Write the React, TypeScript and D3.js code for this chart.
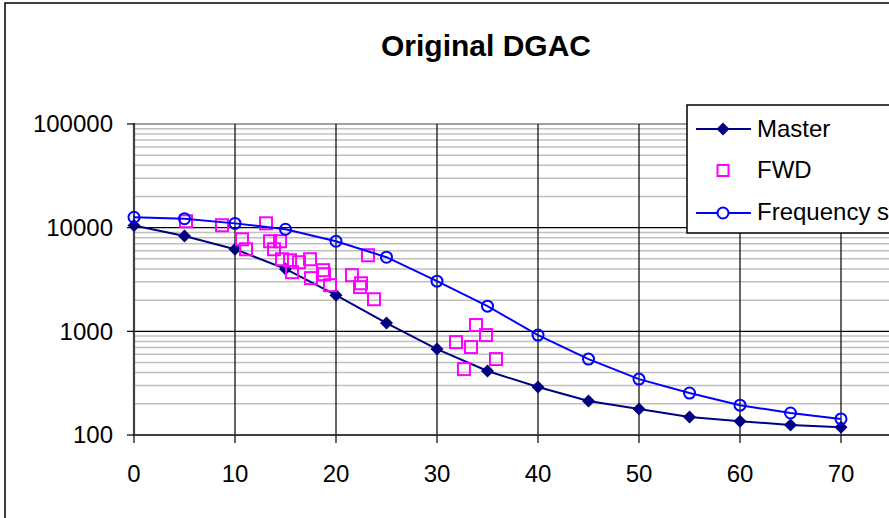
import React from "react";
import * as d3 from "d3";

const xSteps = [0, 5, 10, 15, 20, 25, 30, 35, 40, 45, 50, 55, 60, 65, 70];
const masterValues = [10500, 8300, 6200, 4000, 2230, 1200, 674, 414, 290, 213, 178, 149, 136, 125, 119];
const freqValues = [12600, 12200, 11000, 9660, 7400, 5190, 3050, 1750, 920, 540, 346, 254, 194, 163, 143];
const fwdX = [5.15, 8.71, 13.07, 10.69, 11.09, 13.47, 14.46, 13.86, 14.65, 15.45, 15.64, 16.34, 17.43, 17.52, 18.71, 18.81, 19.41, 23.17, 21.58, 22.48, 22.38, 23.76, 33.86, 34.85, 31.88, 33.37, 35.84, 32.67];
const fwdY = [11530, 10550, 11020, 7730, 6190, 7400, 7400, 6190, 4960, 4850, 3720, 4640, 4960, 3260, 3890, 3560, 2790, 5420, 3480, 2910, 2670, 2040, 1150, 920, 787, 705, 540, 432];
const xTickLabels = ["0", "10", "20", "30", "40", "50", "60", "70"];
const yTickLabels = ["100", "1000", "10000", "100000"];
const seriesNames = ["Master", "FWD", "Frequency sweep"];
const title = "Original DGAC";

const FONT = "'Liberation Sans', Arial, sans-serif";

export default function App() {
  const W = 889, H = 518;
  const x = d3.scaleLinear().domain([0, 80]).range([134, 942]);
  const y = d3.scaleLog().domain([100, 100000]).range([435, 124]);
  const majors = yTickLabels.map(Number);
  const minors = y.ticks().filter((v) => !majors.includes(v));
  const line = d3.line<number>().x((_, i) => x(xSteps[i])).y((v) => y(v));
  const diamond = (cx: number, cy: number, r: number) =>
    `M${cx},${cy - r}L${cx + r},${cy}L${cx},${cy + r}L${cx - r},${cy}Z`;
  const sq = 12;

  return (
    <svg width={W} height={H} style={{ position: "absolute", left: 0, top: 0, background: "#fff" }} fontFamily={FONT}>
      <rect x={0} y={0} width={W} height={H} fill="#fff" />
      <rect x={5} y={3} width={1000} height={1000} fill="none" stroke="#000" strokeWidth={1.5} />
      <text x={486} y={45} textAnchor="middle" dy="0.35em" fontSize={30} fontWeight="bold">{title}</text>

      {/* minor horizontal grid */}
      {minors.map((v) => (
        <line key={"mn" + v} x1={134} x2={942} y1={y(v)} y2={y(v)} stroke="#c0c0c0" strokeWidth={1.5} />
      ))}
      {/* top border */}
      <line x1={134} x2={942} y1={124} y2={124} stroke="#a0a0a0" strokeWidth={2} />
      {/* major horizontal grid */}
      {majors.slice(1, 3).map((v) => (
        <line key={"mj" + v} x1={134} x2={942} y1={y(v)} y2={y(v)} stroke="#000" strokeWidth={1.2} />
      ))}
      {/* vertical grid */}
      {xTickLabels.slice(1).map((t) => (
        <line key={"vg" + t} x1={x(+t)} x2={x(+t)} y1={124} y2={435} stroke="#000" strokeWidth={1.2} />
      ))}
      {/* axes */}
      <line x1={134} x2={134} y1={123} y2={436} stroke="#404040" strokeWidth={2.2} />
      <line x1={133} x2={942} y1={435} y2={435} stroke="#404040" strokeWidth={2.2} />
      {majors.map((v, i) => (
        <g key={"yt" + v}>
          <line x1={127} x2={134} y1={y(v)} y2={y(v)} stroke="#000" strokeWidth={1.2} />
          <text x={113} y={y(v)} dy="0.35em" textAnchor="end" fontSize={24}>{yTickLabels[i]}</text>
        </g>
      ))}
      {xTickLabels.map((t) => (
        <g key={"xt" + t}>
          <line x1={x(+t)} x2={x(+t)} y1={435} y2={443} stroke="#000" strokeWidth={1.2} />
          <text x={x(+t)} y={482} textAnchor="middle" fontSize={24}>{t}</text>
        </g>
      ))}

      {/* Master */}
      <path d={line(masterValues) || ""} fill="none" stroke="#000080" strokeWidth={2} />
      {masterValues.map((v, i) => (
        <path key={"m" + i} d={diamond(x(xSteps[i]), y(v), 6.5)} fill="#000080" />
      ))}
      {/* FWD */}
      {fwdY.map((v, i) => (
        <rect key={"f" + i} x={x(fwdX[i]) - sq / 2} y={y(v) - sq / 2} width={sq} height={sq} fill="none" stroke="#ff00ff" strokeWidth={2} />
      ))}
      {/* Frequency sweep */}
      <path d={line(freqValues) || ""} fill="none" stroke="#0000ff" strokeWidth={2} />
      {freqValues.map((v, i) => (
        <circle key={"c" + i} cx={x(xSteps[i])} cy={y(v)} r={5.5} fill="none" stroke="#0000ff" strokeWidth={2} />
      ))}

      {/* legend */}
      <rect x={687} y={105} width={300} height={128} fill="#fff" stroke="#000" strokeWidth={1.5} />
      <line x1={696} x2={751} y1={129} y2={129} stroke="#000080" strokeWidth={2} />
      <path d={diamond(723, 129, 6.5)} fill="#000080" />
      <text x={757} y={129} dy="0.35em" fontSize={24}>{seriesNames[0]}</text>
      <rect x={723 - sq / 2 + 0.5} y={171 - sq / 2} width={sq - 1} height={sq - 1} fill="none" stroke="#ff00ff" strokeWidth={2} />
      <text x={757} y={170} dy="0.35em" fontSize={24}>{seriesNames[1]}</text>
      <line x1={696} x2={751} y1={213} y2={213} stroke="#0000ff" strokeWidth={2} />
      <circle cx={723} cy={213} r={5.5} fill="#fff" stroke="#0000ff" strokeWidth={2} />
      <text x={757} y={212} dy="0.35em" fontSize={24}>{seriesNames[2]}</text>
    </svg>
  );
}
